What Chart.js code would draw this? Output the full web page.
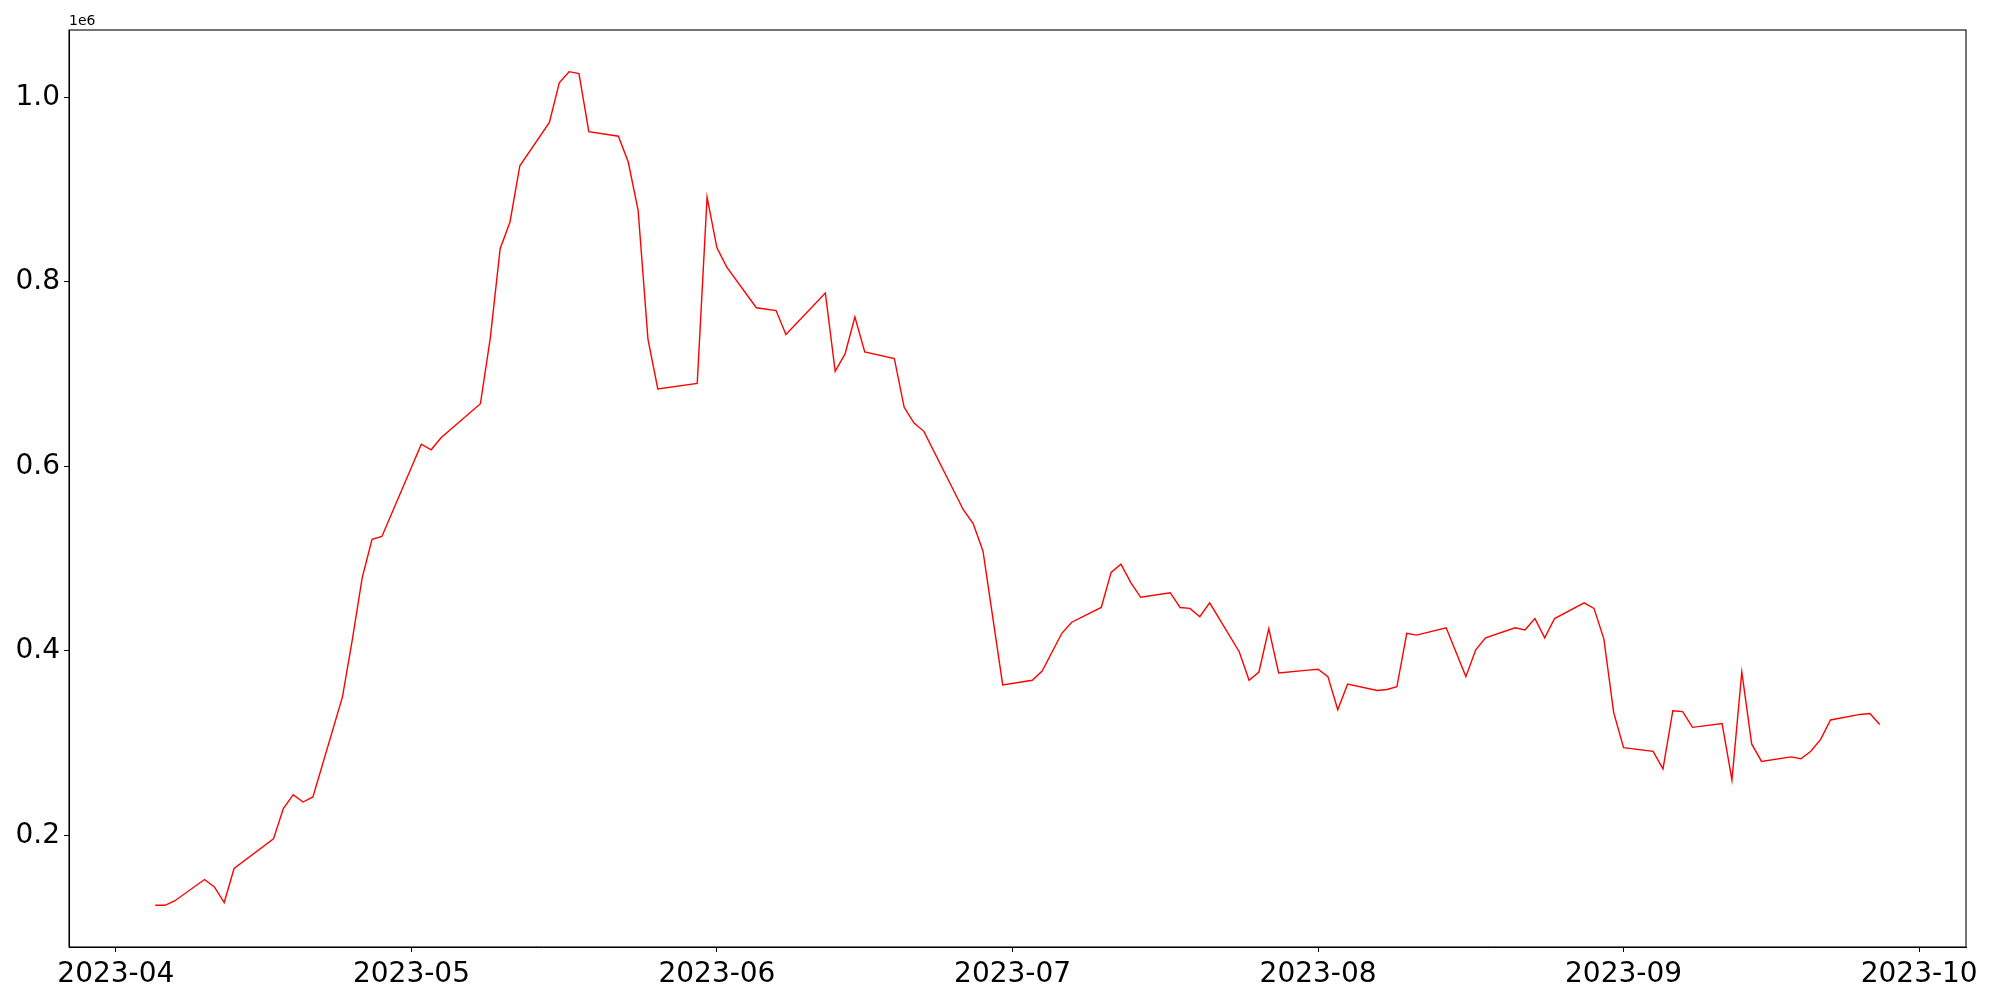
<!DOCTYPE html>
<html>
<head>
<meta charset="utf-8">
<script src="https://cdn.jsdelivr.net/npm/chart.js@4.4.0/dist/chart.umd.min.js"></script>
<style>
  body { margin: 0; background: #fff; }
  canvas { display: block; }
</style>
</head>
<body>
<canvas id="lineChart" width="2000" height="1000"></canvas>
<script>
/*=========================-- Data -=======================*/
const dates = [
  '2023-04-05','2023-04-06','2023-04-07','2023-04-10','2023-04-11','2023-04-12','2023-04-13','2023-04-17','2023-04-18','2023-04-19','2023-04-20','2023-04-21','2023-04-24','2023-04-25','2023-04-26','2023-04-27','2023-04-28',
  '2023-05-02','2023-05-03','2023-05-04','2023-05-08','2023-05-09','2023-05-10','2023-05-11','2023-05-12','2023-05-15','2023-05-16','2023-05-17','2023-05-18','2023-05-19','2023-05-22','2023-05-23','2023-05-24','2023-05-25','2023-05-26','2023-05-30','2023-05-31',
  '2023-06-01','2023-06-02','2023-06-05','2023-06-07','2023-06-08','2023-06-12','2023-06-13','2023-06-14','2023-06-15','2023-06-16','2023-06-19','2023-06-20','2023-06-21','2023-06-22','2023-06-26','2023-06-27','2023-06-28','2023-06-30',
  '2023-07-03','2023-07-04','2023-07-06','2023-07-07','2023-07-10','2023-07-11','2023-07-12','2023-07-13','2023-07-14','2023-07-17','2023-07-18','2023-07-19','2023-07-20','2023-07-21','2023-07-24','2023-07-25','2023-07-26','2023-07-27','2023-07-28','2023-07-31',
  '2023-08-01','2023-08-02','2023-08-03','2023-08-04','2023-08-07','2023-08-08','2023-08-09','2023-08-10','2023-08-11','2023-08-14','2023-08-16','2023-08-17','2023-08-18','2023-08-21','2023-08-22','2023-08-23','2023-08-24','2023-08-25','2023-08-28','2023-08-29','2023-08-30','2023-08-31',
  '2023-09-01','2023-09-04','2023-09-05','2023-09-06','2023-09-07','2023-09-08','2023-09-11','2023-09-12','2023-09-13','2023-09-14','2023-09-15','2023-09-18','2023-09-19','2023-09-20','2023-09-21','2023-09-22','2023-09-25','2023-09-26','2023-09-27'
];
const values = [
  124000,124000,129000,152000,144000,127000,164000,196000,229000,244000,236000,241500,350000,412000,479000,521000,524000,
  624000,618000,631000,668000,739000,836000,865000,926000,973000,1016000,1028000,1026000,963000,958000,930000,878000,738000,684000,690000,892000,
  837000,816000,772000,769000,743000,788000,703000,722000,762000,724000,717000,664000,647000,638000,553000,538000,508000,363000,
  368000,378000,419000,431000,447000,485000,494000,474000,458000,463000,447000,446000,437000,452000,399000,368000,377000,424000,376000,379000,
  380000,372000,336000,364000,357000,358000,361000,419000,417000,425000,372000,401000,414000,425000,422500,435000,414000,435000,452000,446000,413000,333000,
  295000,291000,272000,335000,334000,317000,321000,260000,377000,299000,280000,285000,283000,291000,304000,325000,331000,332000,320000
];
const monthTicks = ['2023-04-01','2023-05-01','2023-06-01','2023-07-01','2023-08-01','2023-09-01','2023-10-01'];
const yTicks = [200000, 400000, 600000, 800000, 1000000];

// no date adapter offline -> x axis in days
function toDay(s){
  const p = s.split('-');
  return Date.UTC(+p[0], +p[1] - 1, +p[2]) / 86400000;
}
function dayLabel(d){
  const dt = new Date(d * 86400000);
  const m = dt.getUTCMonth() + 1;
  return dt.getUTCFullYear() + '-' + (m < 10 ? '0' + m : m);
}

const points = dates.map((d, i) => ({ x: toDay(d), y: values[i] }));
const xMin = toDay(dates[0]) - 8.75;
const xMax = toDay(dates[dates.length - 1]) + 8.75;

/*=========================-- Plugins -=======================*/
var frameBox = {
  id: 'frameBox',
  afterDraw(chart) {
    const { ctx, chartArea: { left, top, right, bottom } } = chart;
    ctx.save();
    ctx.strokeStyle = '#000';
    ctx.lineWidth = 1.1;
    ctx.strokeRect(left, top, right - left, bottom - top);
    ctx.font = '14px "DejaVu Sans"';
    ctx.fillStyle = '#000';
    ctx.textAlign = 'left';
    ctx.textBaseline = 'alphabetic';
    ctx.fillText('1e6', left, top - 5);
    ctx.restore();
  }
};

const tickFont = { family: '"DejaVu Sans", sans-serif', size: 28 };

var config = {
  type: 'line',
  data: {
    datasets: [{
      data: points,
      borderColor: '#ff0000',
      borderWidth: 1.4,
      pointRadius: 0,
      tension: 0,
      fill: false
    }]
  },
  options: {
    responsive: false,
    animation: false,
    devicePixelRatio: 1,
    layout: { padding: { left: 0, right: 34, top: 30, bottom: 0 } },
    plugins: { legend: { display: false }, tooltip: { enabled: false } },
    scales: {
      x: {
        type: 'linear',
        min: xMin,
        max: xMax,
        afterBuildTicks: (s) => { s.ticks = monthTicks.map(m => ({ value: toDay(m) })); },
        afterFit: (s) => { s.height = 53; },
        ticks: { callback: (v) => dayLabel(v), color: '#000', font: tickFont, padding: 6, maxRotation: 0, autoSkip: false },
        grid: { drawOnChartArea: false, drawTicks: true, tickLength: 5, color: '#000', lineWidth: 1 },
        border: { display: true, color: '#000', width: 1 }
      },
      y: {
        min: 78800,
        max: 1073200,
        afterBuildTicks: (s) => { s.ticks = yTicks.map(v => ({ value: v })); },
        afterFit: (s) => { s.width = 69; },
        ticks: { callback: (v) => (v / 1e6).toFixed(1), color: '#000', font: tickFont, padding: 4 },
        grid: { drawOnChartArea: false, drawTicks: true, tickLength: 5, color: '#000', lineWidth: 1 },
        border: { display: true, color: '#000', width: 1 }
      }
    }
  },
  plugins: [frameBox]
};

let chartLine = new Chart(document.getElementById('lineChart'), config);
</script>
</body>
</html>
